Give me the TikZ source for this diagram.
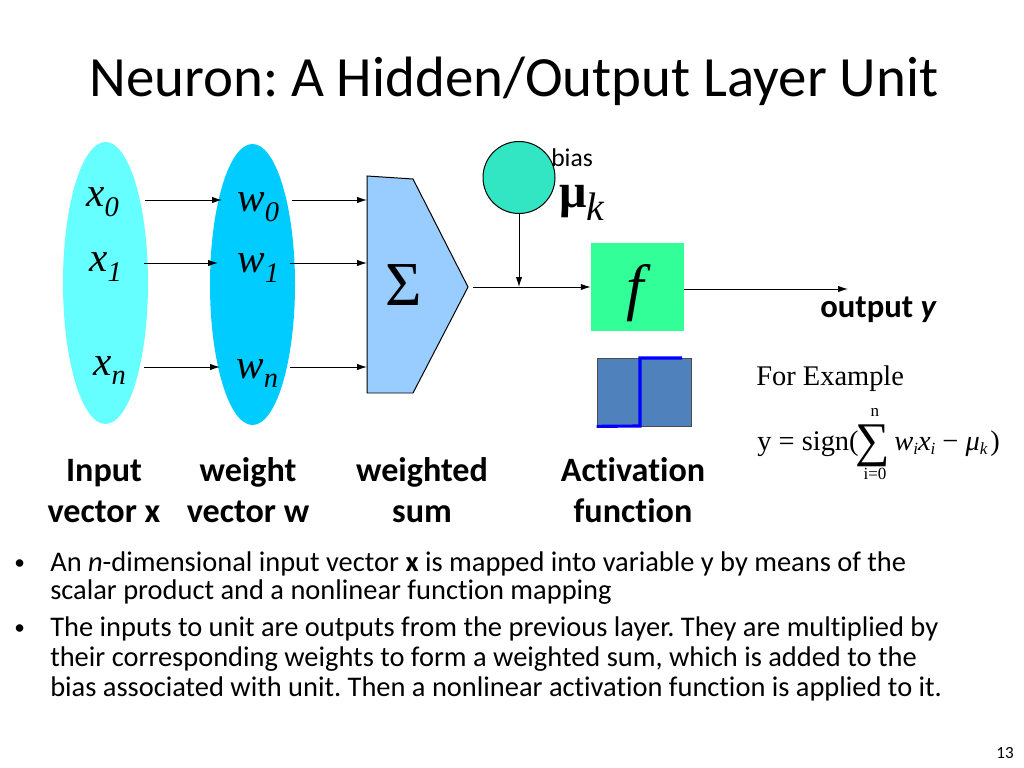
\documentclass[tikz,border=0pt]{standalone}
\usepackage{fontspec}
\setmainfont{Carlito}[Ligatures=NoCommon]
\newfontfamily\tms{Liberation Serif}
\usetikzlibrary{arrows.meta,shapes.geometric}
\newcommand{\pxu}{0.703125pt}
\newcommand{\fsz}[1]{\fontsize{#1}{#1}\selectfont}
\definecolor{cyanA}{RGB}{102,255,255}
\definecolor{cyanB}{RGB}{0,204,255}
\definecolor{pentcol}{RGB}{153,204,255}
\definecolor{biascol}{RGB}{51,230,195}
\definecolor{fcol}{RGB}{51,255,153}
\definecolor{stepcol}{RGB}{79,129,189}
\tikzset{
  ar/.style={-{Latex[length=7pt,width=4.5pt]}, line width=0.7pt},
  txt/.style={inner sep=0pt, anchor=base west},
  ctxt/.style={inner sep=0pt, anchor=base},
  mathlbl/.style={txt, font=\tms\fsz{29}\itshape},
  bottomlbl/.style={ctxt, font=\bfseries\fsz{24}},
  bullettext/.style={txt, font=\fsz{20}},
}
\frenchspacing
\begin{document}
\begin{tikzpicture}[x=0.703125pt,y=-0.703125pt]
\useasboundingbox (0,0) rectangle (1024,768);

% title
\node[txt, font=\fsz{40}] (title) at (89,97) {Neuron: A Hidden/Output Layer Unit};

% ellipses
\node[ellipse, fill=cyanA, inner sep=0pt, minimum width={85*\pxu}, minimum height={282*\pxu}] (inx) at (105.5,283) {};
\node[ellipse, fill=cyanB, inner sep=0pt, minimum width={85*\pxu}, minimum height={281*\pxu}] (inw) at (252.5,284.5) {};

% labels x, w
\node[mathlbl] (lx0) at (86,207) {x\raisebox{-7pt}{\fsz{20}0}};
\node[mathlbl] (lx1) at (89,272) {x\raisebox{-7pt}{\fsz{20}1}};
\node[mathlbl] (lxn) at (93,375) {x\raisebox{-7pt}{\fsz{20}n}};
\node[mathlbl] (lw0) at (237,212) {w\raisebox{-7pt}{\fsz{20}0}};
\node[mathlbl] (lw1) at (237,273) {w\raisebox{-7pt}{\fsz{20}1}};
\node[mathlbl] (lwn) at (236,378) {w\raisebox{-7pt}{\fsz{20}n}};

% pentagon (weighted sum)
\coordinate (p1) at (367,176);
\coordinate (p2) at (413,179);
\coordinate (p3) at (468,287);
\coordinate (p4) at (413,393);
\coordinate (p5) at (367,393);
\draw[fill=pentcol, line width=0.7pt] (p1) -- (p2) -- (p3) -- (p4) -- (p5) -- cycle;
\node[inner sep=0pt, font=\tms\fsz{44}] (sum) at (404,285) {Σ};

% arrow endpoints
\coordinate (a0s) at (145,200); \coordinate (a0e) at (222,200);
\coordinate (a1s) at (144,263); \coordinate (a1e) at (218,263);
\coordinate (ans) at (144,367); \coordinate (ane) at (220,367);
\coordinate (b0s) at (292,200); \coordinate (b0e) at (367,200);
\coordinate (b1s) at (290,263); \coordinate (b1e) at (367,263);
\coordinate (bns) at (290,367); \coordinate (bne) at (367,367);
\draw[ar] (a0s) -- (a0e);
\draw[ar] (a1s) -- (a1e);
\draw[ar] (ans) -- (ane);
\draw[ar] (b0s) -- (b0e);
\draw[ar] (b1s) -- (b1e);
\draw[ar] (bns) -- (bne);

% bias
\node[circle, draw, line width=0.7pt, fill=biascol, inner sep=0pt, minimum size={72*\pxu}] (bias) at (519,177.5) {};
\node[txt, font=\fsz{18}] (biaslbl) at (551,167) {bias};
\node[txt, font=\tms\bfseries\fsz{34}] (mu) at (559,208) {μ\raisebox{-9pt}{\mdseries\itshape\fsz{28}k}};

% activation box
\node[fill=fcol, inner sep=0pt, minimum width={93*\pxu}, minimum height={88*\pxu}] (fbox) at (637.5,287) {};
\node[inner sep=0pt, font=\tms\itshape\fsz{44}] (fsym) at (635,293) {f};

\coordinate (hs) at (473,287);
\coordinate (join) at (519,287);
\draw[ar] (hs) -- (fbox.west |- hs);
\draw[ar] (bias.south) -- (join);

\coordinate (oute) at (848,289);
\draw[ar] (fbox.east |- oute) -- (oute);
\node[txt, font=\bfseries\fsz{23}] (outy) at (820,318) {output \textit{y}};

% step function
\node[draw=black!70, line width=0.5pt, fill=stepcol, inner sep=0pt, minimum width={94*\pxu}, minimum height={68*\pxu}] (stepbox) at (644,392) {};
\draw[blue, line width=2.2pt] (stepbox.south west) -- (640,426) -- (640,358) -- (682,358);

% example formula
\node[txt, font=\tms\fsz{20}] (forex) at (756,385) {For Example};
\node[txt, font=\tms\fsz{20}] (fy) at (757,450) {y = sign(};
\node[inner sep=0pt, font=\tms\fsz{34}] (fsum) at (873,446) {∑};
\node[inner sep=0pt, font=\tms\fsz{12}] (fn) at (875,412) {n};
\node[inner sep=0pt, font=\tms\fsz{12}] (fi) at (875,474) {i=0};
\node[txt, font=\tms\fsz{20}] (fw) at (894,450) {\textit{w}\raisebox{-3pt}{\fsz{12}\itshape i}\textit{x}\raisebox{-3pt}{\fsz{12}\itshape i}\hspace{5pt}−\hspace{5pt}\textit{μ}\raisebox{-3pt}{\fsz{12}\itshape k}\hspace{2pt})};

% bottom labels
\node[bottomlbl] (l1a) at (104,481) {Input};
\node[bottomlbl] (l1b) at (104,522) {vector x};
\node[bottomlbl] (l2a) at (248,481) {weight};
\node[bottomlbl] (l2b) at (248,522) {vector w};
\node[bottomlbl] (l3a) at (422,481) {weighted};
\node[bottomlbl] (l3b) at (422,522) {sum};
\node[bottomlbl] (l4a) at (633,481) {Activation};
\node[bottomlbl] (l4b) at (633,522) {function};

% bullets
\node[txt, font=\fsz{15}] (bul1) at (14,569) {•};
\node[txt, font=\fsz{15}] (bul2) at (14,634) {•};
\node[bullettext] (t1) at (50,571) {An \textit{n}-dimensional input vector \textbf{x} is mapped into variable y by means of the};
\node[bullettext] (t2) at (50,599) {scalar product and a nonlinear function mapping};
\node[bullettext] (t3) at (50,636) {The inputs to unit are outputs from the previous layer. They are multiplied by};
\node[bullettext] (t4) at (50,666) {their corresponding weights to form a weighted sum, which is added to the};
\node[bullettext] (t5) at (50,696) {bias associated with unit. Then a nonlinear activation function is applied to it.};

\node[inner sep=0pt, anchor=base east, font=\fsz{12}] (pg) at (1014,758) {13};
\end{tikzpicture}
\end{document}
